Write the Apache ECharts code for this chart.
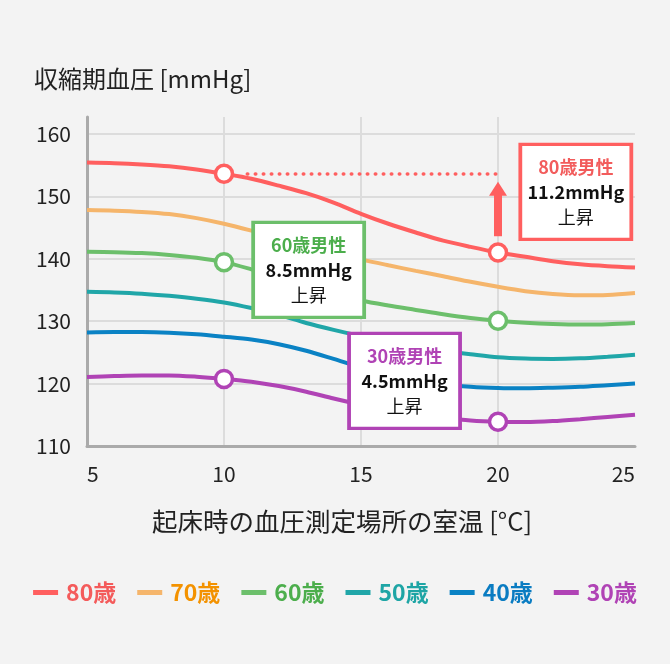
<!DOCTYPE html>
<html><head><meta charset="utf-8">
<script src="https://cdn.jsdelivr.net/npm/echarts@6/dist/echarts.min.js"></script>
<style>html,body{margin:0;padding:0;background:#f3f3f3}#c{width:670px;height:664px}</style>
</head><body><div id="c"></div>
<script>
const temps = [5, 6, 7, 8, 9, 10, 11, 12, 13, 14, 15, 16, 17, 18, 19, 20, 21, 22, 23, 24, 25];
const age80 = [155.4, 155.3, 155.1, 154.8, 154.3, 153.6, 152.8, 151.7, 150.5, 149.0, 147.2, 145.6, 144.2, 142.9, 141.9, 141.0, 140.3, 139.6, 139.1, 138.8, 138.6];
const age70 = [147.8, 147.7, 147.5, 147.15, 146.5, 145.6, 144.5, 143.3, 142.1, 141.0, 139.9, 138.95, 138.05, 137.2, 136.3, 135.5, 134.8, 134.35, 134.15, 134.2, 134.5];
const age60 = [141.1, 141.05, 140.9, 140.6, 140.15, 139.45, 138.3, 137.0, 135.7, 134.4, 133.3, 132.5, 131.8, 131.1, 130.5, 130.05, 129.75, 129.55, 129.45, 129.5, 129.7];
const age50 = [134.7, 134.6, 134.4, 134.05, 133.6, 133.0, 132.1, 131.0, 129.7, 128.6, 127.6, 126.7, 125.9, 125.25, 124.7, 124.2, 124.0, 123.95, 124.05, 124.3, 124.6];
const age40 = [128.2, 128.25, 128.25, 128.15, 127.9, 127.5, 127.05, 126.3, 125.25, 123.95, 122.6, 121.5, 120.6, 119.9, 119.5, 119.3, 119.25, 119.35, 119.5, 119.75, 120.0];
const age30 = [121.05, 121.2, 121.3, 121.3, 121.1, 120.75, 120.3, 119.6, 118.7, 117.6, 116.6, 115.7, 115.0, 114.5, 114.1, 113.9, 113.85, 114.0, 114.3, 114.65, 115.0];
const seriesNames = ['80歳', '70歳', '60歳', '50歳', '40歳', '30歳'];
const lineColors = ['#ff5f5f', '#f5b56b', '#6cbf6b', '#20a6a8', '#0a82c4', '#b043b5'];
const legendTextColors = ['#f45b5b', '#f39200', '#4cae4c', '#1ea5a5', '#0a7cc2', '#b043b5'];
const markedTemps = [10, 20];
const markedSeries = ['80歳', '60歳', '30歳'];
// annotation boxes: [series, x, y, title, amount]
const boxes = [
  ['80歳', 22.84, 150.7, '80歳男性', '11.2mmHg'],
  ['60歳', 13.09, 138.2, '60歳男性', '8.5mmHg'],
  ['30歳', 16.59, 120.45, '30歳男性', '4.5mmHg']
];
const boxTitleColors = {'80歳': '#f25c5c', '60歳': '#4cae4c', '30歳': '#b043b5'};
const dottedLine = [[10.85, 153.6], [20, 153.6]];
const arrowLine = [[20, 143.6], [20, 151.2]];
const yTicks = {min: 110, max: 162.7, interval: 10};
const xTicks = {min: 5, max: 25, interval: 5};

const allData = [age80, age70, age60, age50, age40, age30];
const FONT = '"Noto Sans CJK JP", "Noto Sans", sans-serif';

const series = seriesNames.map((name, i) => {
  const color = lineColors[i];
  const data = temps.map((t, j) => {
    const v = {value: [t, allData[i][j]]};
    if (markedSeries.includes(name) && markedTemps.includes(t)) {
      v.symbol = 'circle';
      v.symbolSize = 17;
      v.itemStyle = {color: '#fff', borderColor: color, borderWidth: 3.5};
    }
    return v;
  });
  const s = {
    name, type: 'line', smooth: 0.3, color,
    symbol: 'none', showSymbol: true,
    lineStyle: {width: 4, color},
    data, z: 3
  };
  const box = boxes.find(b => b[0] === name);
  if (box) {
    s.markPoint = {
      z: 10,
      symbol: 'rect', symbolSize: [111, 95],
      itemStyle: {color: '#fff', borderColor: color, borderWidth: 3.5},
      label: {
        show: true, position: 'inside',
        formatter: '{a|' + box[3] + '}\n{b|' + box[4] + '}\n{c|上昇}',
        rich: {
          a: {fontSize: 18, fontWeight: 'bold', color: boxTitleColors[name], lineHeight: 25, fontFamily: FONT},
          b: {fontSize: 18, fontWeight: 'bold', color: '#111', lineHeight: 25, fontFamily: FONT},
          c: {fontSize: 18, fontWeight: 'normal', color: '#111', lineHeight: 25, fontFamily: FONT}
        }
      },
      data: [{coord: [box[1], box[2]]}]
    };
  }
  if (name === '80歳') {
    s.markLine = {
      silent: true, z: 4,
      symbol: ['none', 'none'],
      label: {show: false},
      data: [
        [{coord: dottedLine[0], lineStyle: {type: [0.5, 7.5], cap: 'round', width: 3.5, color}},
         {coord: dottedLine[1]}],
        [{coord: arrowLine[0], symbol: 'none', lineStyle: {type: 'solid', width: 8, color}},
         {coord: arrowLine[1], symbol: 'triangle', symbolSize: [18, 14]}]
      ]
    };
  }
  return s;
});

const chart = echarts.init(document.getElementById('c'), null, {renderer: 'canvas'});
chart.setOption({
  backgroundColor: '#f3f3f3',
  animation: false,
  textStyle: {fontFamily: FONT},
  title: [
    {text: '収縮期血圧 [mmHg]', left: 29, top: 62, textStyle: {fontSize: 24, fontWeight: 'normal', color: '#222', fontFamily: FONT}},
    {text: '起床時の血圧測定場所の室温 [°C]', left: 147, top: 504, textStyle: {fontSize: 25.5, fontWeight: 'normal', color: '#222', fontFamily: FONT}}
  ],
  grid: {left: 87, right: 35, top: 117, bottom: 218, containLabel: false},
  xAxis: {
    type: 'value', min: xTicks.min, max: xTicks.max, interval: xTicks.interval,
    axisLine: {show: true, lineStyle: {color: '#aaa', width: 3}},
    axisTick: {show: false},
    splitLine: {show: true, showMinLine: false, showMaxLine: false, lineStyle: {color: '#dcdcdc', width: 2}},
    axisLabel: {fontSize: 21, color: '#222', margin: 18, alignMinLabel: 'left', alignMaxLabel: 'right', fontFamily: FONT}
  },
  yAxis: {
    type: 'value', min: yTicks.min, max: yTicks.max, interval: yTicks.interval,
    axisLine: {show: true, lineStyle: {color: '#aaa', width: 3}},
    axisTick: {show: false},
    splitLine: {show: true, showMinLine: false, showMaxLine: false, lineStyle: {color: '#dcdcdc', width: 2}},
    axisLabel: {fontSize: 21, color: '#222', margin: 16, showMaxLabel: false, fontFamily: FONT}
  },
  legend: {
    left: 'center', top: 576,
    icon: 'rect', itemWidth: 25, itemHeight: 5, itemGap: 21,
    data: seriesNames.map((n, i) => ({name: n, textStyle: {color: legendTextColors[i]}})),
    textStyle: {fontSize: 23, fontWeight: 'bold', fontFamily: FONT, padding: [0, 0, 0, 3]}
  },
  series
});
</script></body></html>
